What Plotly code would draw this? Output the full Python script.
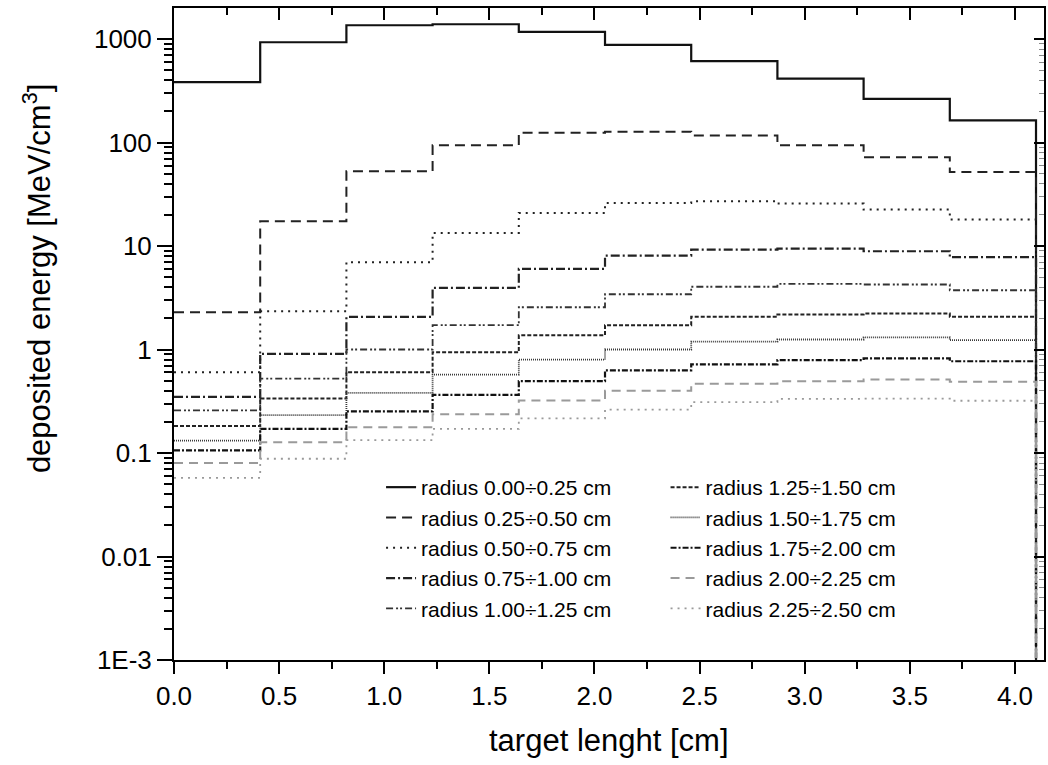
import plotly.graph_objects as go

# ---- data -------------------------------------------------------------
bin_edges = [0.0, 0.41, 0.82, 1.23, 1.64, 2.05, 2.46, 2.87, 3.28, 3.69, 4.10]

labels = [
    "radius 0.00÷0.25 cm", "radius 0.25÷0.50 cm", "radius 0.50÷0.75 cm",
    "radius 0.75÷1.00 cm", "radius 1.00÷1.25 cm", "radius 1.25÷1.50 cm",
    "radius 1.50÷1.75 cm", "radius 1.75÷2.00 cm", "radius 2.00÷2.25 cm",
    "radius 2.25÷2.50 cm",
]

r_000_025 = [383, 931, 1360, 1390, 1173, 879, 611, 415, 264, 164]
r_025_050 = [2.29, 17.4, 52.8, 94.2, 124, 127, 117, 94, 72, 52]
r_050_075 = [0.604, 2.34, 6.98, 13.4, 20.9, 26.1, 27.1, 25.7, 22.5, 18.0]
r_075_100 = [0.349, 0.908, 2.07, 3.95, 6.02, 8.09, 9.25, 9.46, 8.9, 7.8]
r_100_125 = [0.258, 0.523, 1.0, 1.72, 2.56, 3.42, 4.04, 4.31, 4.25, 3.74]
r_125_150 = [0.182, 0.336, 0.604, 0.942, 1.37, 1.72, 2.07, 2.18, 2.23, 2.07]
r_150_175 = [0.132, 0.232, 0.381, 0.573, 0.80, 1.0, 1.19, 1.25, 1.31, 1.23]
r_175_200 = [0.106, 0.171, 0.253, 0.365, 0.494, 0.63, 0.72, 0.79, 0.82, 0.77]
r_200_225 = [0.080, 0.127, 0.177, 0.237, 0.322, 0.40, 0.466, 0.494, 0.513, 0.487]
r_225_250 = [0.0575, 0.088, 0.133, 0.171, 0.216, 0.263, 0.31, 0.334, 0.336, 0.32]

END_VALUE = 1e-4  # histograms fall to zero after the last bin

series = [r_000_025, r_025_050, r_050_075, r_075_100, r_100_125,
          r_125_150, r_150_175, r_175_200, r_200_225, r_225_250]

y_tickvals = [1e-3, 1e-2, 1e-1, 1, 10, 100, 1000]
y_ticktext = ["1E-3", "0.01", "0.1", "1", "10", "100", "1000"]

# ---- styles -----------------------------------------------------------
styles = [
    dict(color="#111111", width=2.2, dash="solid"),
    dict(color="#222222", width=2.0, dash="10px,6px"),
    dict(color="#222222", width=2.0, dash="2px,5px"),
    dict(color="#222222", width=2.2, dash="9px,3px,2px,3px"),
    dict(color="#333333", width=1.8, dash="7px,3px,2px,2px,2px,3px"),
    dict(color="#222222", width=2.0, dash="4px,2px"),
    dict(color="#3a3a3a", width=1.8, dash="1px,1px"),
    dict(color="#111111", width=2.2, dash="6px,2px,2px,2px"),
    dict(color="#9a9a9a", width=2.0, dash="9px,6px"),
    dict(color="#9a9a9a", width=1.8, dash="2px,5px"),
]

FONT = "Liberation Sans, Arial, sans-serif"

fig = go.Figure()
for i, (vals, name, st) in enumerate(zip(series, labels, styles)):
    fig.add_trace(go.Scatter(
        x=bin_edges, y=list(vals) + [END_VALUE],
        mode="lines", line_shape="hv", line=st, name=name,
        legend="legend" if i < 5 else "legend2",
        hoverinfo="skip",
    ))

# empty trace so the mirrored top/right axes are drawn
fig.add_trace(go.Scatter(x=[], y=[], xaxis="x2", yaxis="y2", showlegend=False))

XR = [0, 4.138]
YR = [-3, 3.30]
minor_y = [m * 10 ** e for e in range(-3, 4) for m in range(2, 10)]

fig.update_layout(
    width=1048, height=765,
    margin=dict(l=174, r=4, t=8, b=105),
    paper_bgcolor="white", plot_bgcolor="white",
    font=dict(family=FONT, color="black"),
    showlegend=True,
    xaxis=dict(
        range=XR, showgrid=False, zeroline=False,
        showline=True, linecolor="black", linewidth=2,
        tickmode="linear", tick0=0, dtick=0.5, tickformat=".1f",
        ticks="outside", ticklen=12, tickwidth=2, tickcolor="black",
        minor=dict(ticks="outside", ticklen=7, tickwidth=1.5, tickcolor="black",
                   dtick=0.25, tick0=0, showgrid=False),
        tickfont=dict(size=26, family=FONT),
    ),
    yaxis=dict(
        type="log", range=YR, showgrid=False, zeroline=False,
        showline=True, linecolor="black", linewidth=2,
        tickmode="array", tickvals=y_tickvals, ticktext=y_ticktext,
        ticks="outside", ticklen=15, tickwidth=2, tickcolor="black",
        minor=dict(ticks="outside", ticklen=8, tickwidth=1.5, tickcolor="black",
                   tickmode="array", tickvals=minor_y, showgrid=False),
        tickfont=dict(size=26, family=FONT),
    ),
    xaxis2=dict(
        overlaying="x", side="top", anchor="y2", range=XR,
        showgrid=False, zeroline=False, showline=True, linecolor="black", linewidth=2,
        tickmode="linear", tick0=0, dtick=0.5, showticklabels=False,
        ticks="inside", ticklen=12, tickwidth=2, tickcolor="black",
        minor=dict(ticks="inside", ticklen=7, tickwidth=1.5, tickcolor="black",
                   dtick=0.25, tick0=0, showgrid=False),
    ),
    yaxis2=dict(
        overlaying="y", side="right", anchor="x2", type="log", range=YR,
        showgrid=False, zeroline=False, showline=True, linecolor="black", linewidth=2,
        tickmode="array", tickvals=y_tickvals, showticklabels=False,
        ticks="inside", ticklen=10, tickwidth=2, tickcolor="black",
        minor=dict(ticks="inside", ticklen=5, tickwidth=1, tickcolor="#888888",
                   tickmode="array", tickvals=minor_y, showgrid=False),
    ),
    legend=dict(
        x=0.238, y=0.296, xanchor="left", yanchor="top",
        bgcolor="rgba(0,0,0,0)", borderwidth=0, tracegroupgap=0,
        font=dict(size=21, family=FONT, color="black"),
    ),
    legend2=dict(
        x=0.565, y=0.296, xanchor="left", yanchor="top",
        bgcolor="rgba(0,0,0,0)", borderwidth=0, tracegroupgap=0,
        font=dict(size=21, family=FONT, color="black"),
    ),
    annotations=[
        dict(text="target lenght [cm]", xref="paper", yref="paper",
             x=0.5, y=-0.123, xanchor="center", yanchor="middle",
             showarrow=False, font=dict(size=31, family=FONT)),
        dict(text="deposited energy [MeV/cm<sup>3</sup>]", xref="paper", yref="paper",
             x=-0.158, y=0.585, xanchor="center", yanchor="middle", textangle=-90,
             showarrow=False, font=dict(size=31, family=FONT)),
    ],
)

fig.write_html("out.html")
